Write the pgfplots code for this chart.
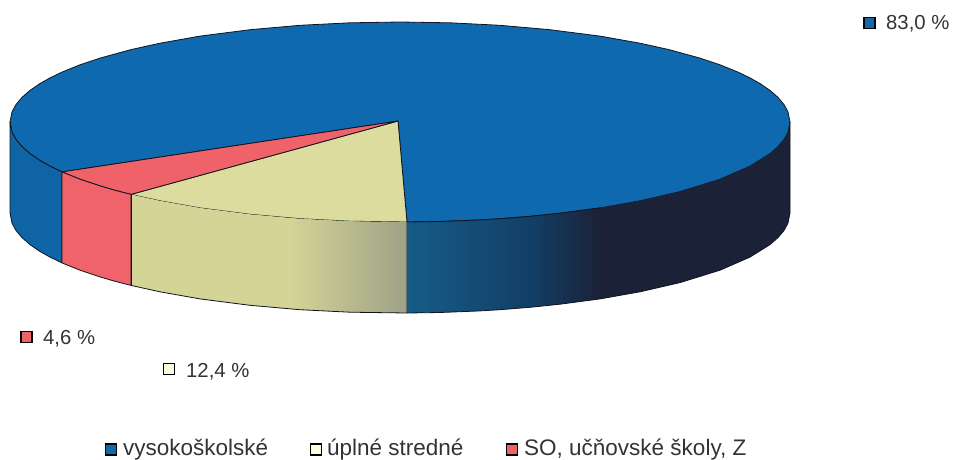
\documentclass[border=0pt]{standalone}
\usepackage{pgfplots}
\pgfplotsset{compat=1.18}
\usepackage{fontspec}
\setmainfont{Liberation Sans}
\definecolor{blueT}{HTML}{0F69AE}
\definecolor{blueS}{HTML}{0F64A6}
\definecolor{blueA}{HTML}{155C88}
\definecolor{blueB}{HTML}{123F66}
\definecolor{navy}{HTML}{1B2238}
\definecolor{yelT}{HTML}{DDDC9F}
\definecolor{yelS}{HTML}{D4D496}
\definecolor{yelD}{HTML}{9EA186}
\definecolor{redT}{HTML}{EF626A}
\definecolor{redS}{HTML}{F0636B}
\definecolor{edge}{HTML}{10141E}
\begin{document}
\begin{tikzpicture}
\path[use as bounding box] (0,0) rectangle (954pt,459pt);
\begin{axis}[at={(0,0)},anchor=south west,scale only axis,width=954pt,height=459pt,xmin=0,xmax=954,ymin=0,ymax=459,y dir=reverse,hide axis,clip=false]
% top face: blue
\addplot[fill=blueT,draw=edge,line width=0.8pt] coordinates {(398,121)(62,171.9)(50,166.1)(40,160.5)(30,153.6)(22,146.6)(16,139.5)(12,132.1)(10,122)(12,111.9)(16,104.5)(22,97.4)(30,90.4)(40,83.5)(50,77.9)(62,72.1)(80,64.8)(100,58.1)(131,49.6)(160,43.2)(200,36.1)(250,29.7)(300,25.3)(350,22.8)(400,22)(450,22.8)(500,25.3)(550,29.7)(600,36.1)(640,43.2)(669,49.6)(700,58.1)(720,64.8)(738,72.1)(750,77.9)(760,83.5)(770,90.4)(778,97.4)(784,104.5)(788,111.9)(790,122)(788,132.1)(784,139.5)(778,146.6)(770,153.6)(750,166.1)(720,179.2)(680,191.6)(640,200.8)(600,207.9)(560,213.2)(530,216.3)(500,218.7)(480,219.9)(440,221.5)(407,222)} --cycle;
% top face: yellow
\addplot[fill=yelT,draw=edge,line width=0.8pt] coordinates {(398,121)(407,222)(350,221.2)(300,218.7)(250,214.3)(200,207.9)(160,200.8)(131,194.4)} --cycle;
% top face: red
\addplot[fill=redT,draw=edge,line width=0.8pt] coordinates {(398,121)(131,194.4)(115,190.3)(100,185.9)(80,179.2)(62,171.9)} --cycle;
% side: blue left
\addplot[fill=blueS,draw=edge,line width=0.8pt] coordinates {(10,122)(12,132.1)(16,139.5)(22,146.6)(30,153.6)(40,160.5)(50,166.1)(62,171.9)(62,262.9)(50,257.1)(40,251.5)(30,244.6)(22,237.6)(16,230.5)(12,223.1)(10,213)} --cycle;
% side: red
\addplot[fill=redS,draw=edge,line width=0.8pt] coordinates {(62,171.9)(80,179.2)(100,185.9)(115,190.3)(131,194.4)(131,285.4)(115,281.3)(100,276.9)(80,270.2)(62,262.9)} --cycle;
% side: yellow
\addplot[fill=yelS,draw=none] coordinates {(131,194.4)(160,200.8)(200,207.9)(250,214.3)(290,217.9)(290,308.9)(250,305.3)(200,298.9)(160,291.8)(131,285.4)} --cycle;
\addplot[left color=yelS,right color=yelD,draw=none] coordinates {(290,217.9)(300,218.7)(350,221.2)(407,222)(407,313)(350,312.2)(300,309.7)(290,308.9)} --cycle;
\addplot[draw=edge,line width=0.8pt] coordinates {(131,285.4)(160,291.8)(200,298.9)(250,305.3)(300,309.7)(350,312.2)(407,313)(407,222)};
\addplot[draw=edge,line width=0.8pt] coordinates {(131,285.4)(131,194.4)};
% side: blue dark right
\addplot[left color=blueA,right color=blueB,draw=none] coordinates {(407,222)(440,221.5)(480,219.9)(500,218.7)(530,216.3)(530,307.3)(500,309.7)(480,310.9)(440,312.5)(407,313)} --cycle;
\addplot[left color=blueB,right color=navy,draw=none] coordinates {(530,216.3)(560,213.2)(600,207.9)(600,298.9)(560,304.2)(530,307.3)} --cycle;
\addplot[fill=navy,draw=none] coordinates {(600,207.9)(640,200.8)(680,191.6)(720,179.2)(750,166.1)(770,153.6)(778,146.6)(784,139.5)(788,132.1)(790,122)(790,213)(788,223.1)(784,230.5)(778,237.6)(770,244.6)(750,257.1)(720,270.2)(680,282.6)(640,291.8)(600,298.9)} --cycle;
\addplot[draw=edge,line width=0.8pt] coordinates {(407,313)(440,312.5)(480,310.9)(500,309.7)(530,307.3)(560,304.2)(600,298.9)(640,291.8)(680,282.6)(720,270.2)(750,257.1)(770,244.6)(778,237.6)(784,230.5)(788,223.1)(790,213)(790,122)};
\addplot[draw=edge,line width=0.8pt] coordinates {(407,222)(440,221.5)(480,219.9)(500,218.7)(530,216.3)(560,213.2)(600,207.9)};
% markers
\addplot[only marks,mark=square*,mark size=5.5pt,mark options={fill=blueT,draw=black,line width=1.3pt}] coordinates {(869.5,23)(111,449.5)};
\addplot[only marks,mark=square*,mark size=5.5pt,mark options={fill=redT,draw=black,line width=1.3pt}] coordinates {(26.5,337)(512,449.5)};
\addplot[only marks,mark=square*,mark size=5.5pt,mark options={fill=yellow!12!white,draw=black,line width=1.3pt}] coordinates {(169,369)(316,449.5)};
% labels
\node[anchor=base west,inner sep=0,font=\fontsize{20.3}{24}\selectfont,text=black!80] at (axis cs:886,29) {83,0 \%};
\node[anchor=base west,inner sep=0,font=\fontsize{20.3}{24}\selectfont,text=black!80] at (axis cs:43,344) {4,6 \%};
\node[anchor=base west,inner sep=0,font=\fontsize{20.3}{24}\selectfont,text=black!80] at (axis cs:186,377) {12,4 \%};
\node[anchor=base west,inner sep=0,font=\fontsize{22.5}{26}\selectfont,text=black!80] at (axis cs:123,455) {vysokoškolské};
\node[anchor=base west,inner sep=0,font=\fontsize{22.5}{26}\selectfont,text=black!80] at (axis cs:327,455) {úplné stredné};
\node[anchor=base west,inner sep=0,font=\fontsize{22.5}{26}\selectfont,text=black!80] at (axis cs:524,455) {SO, učňovské školy, Z};
\end{axis}
\end{tikzpicture}
\end{document}
